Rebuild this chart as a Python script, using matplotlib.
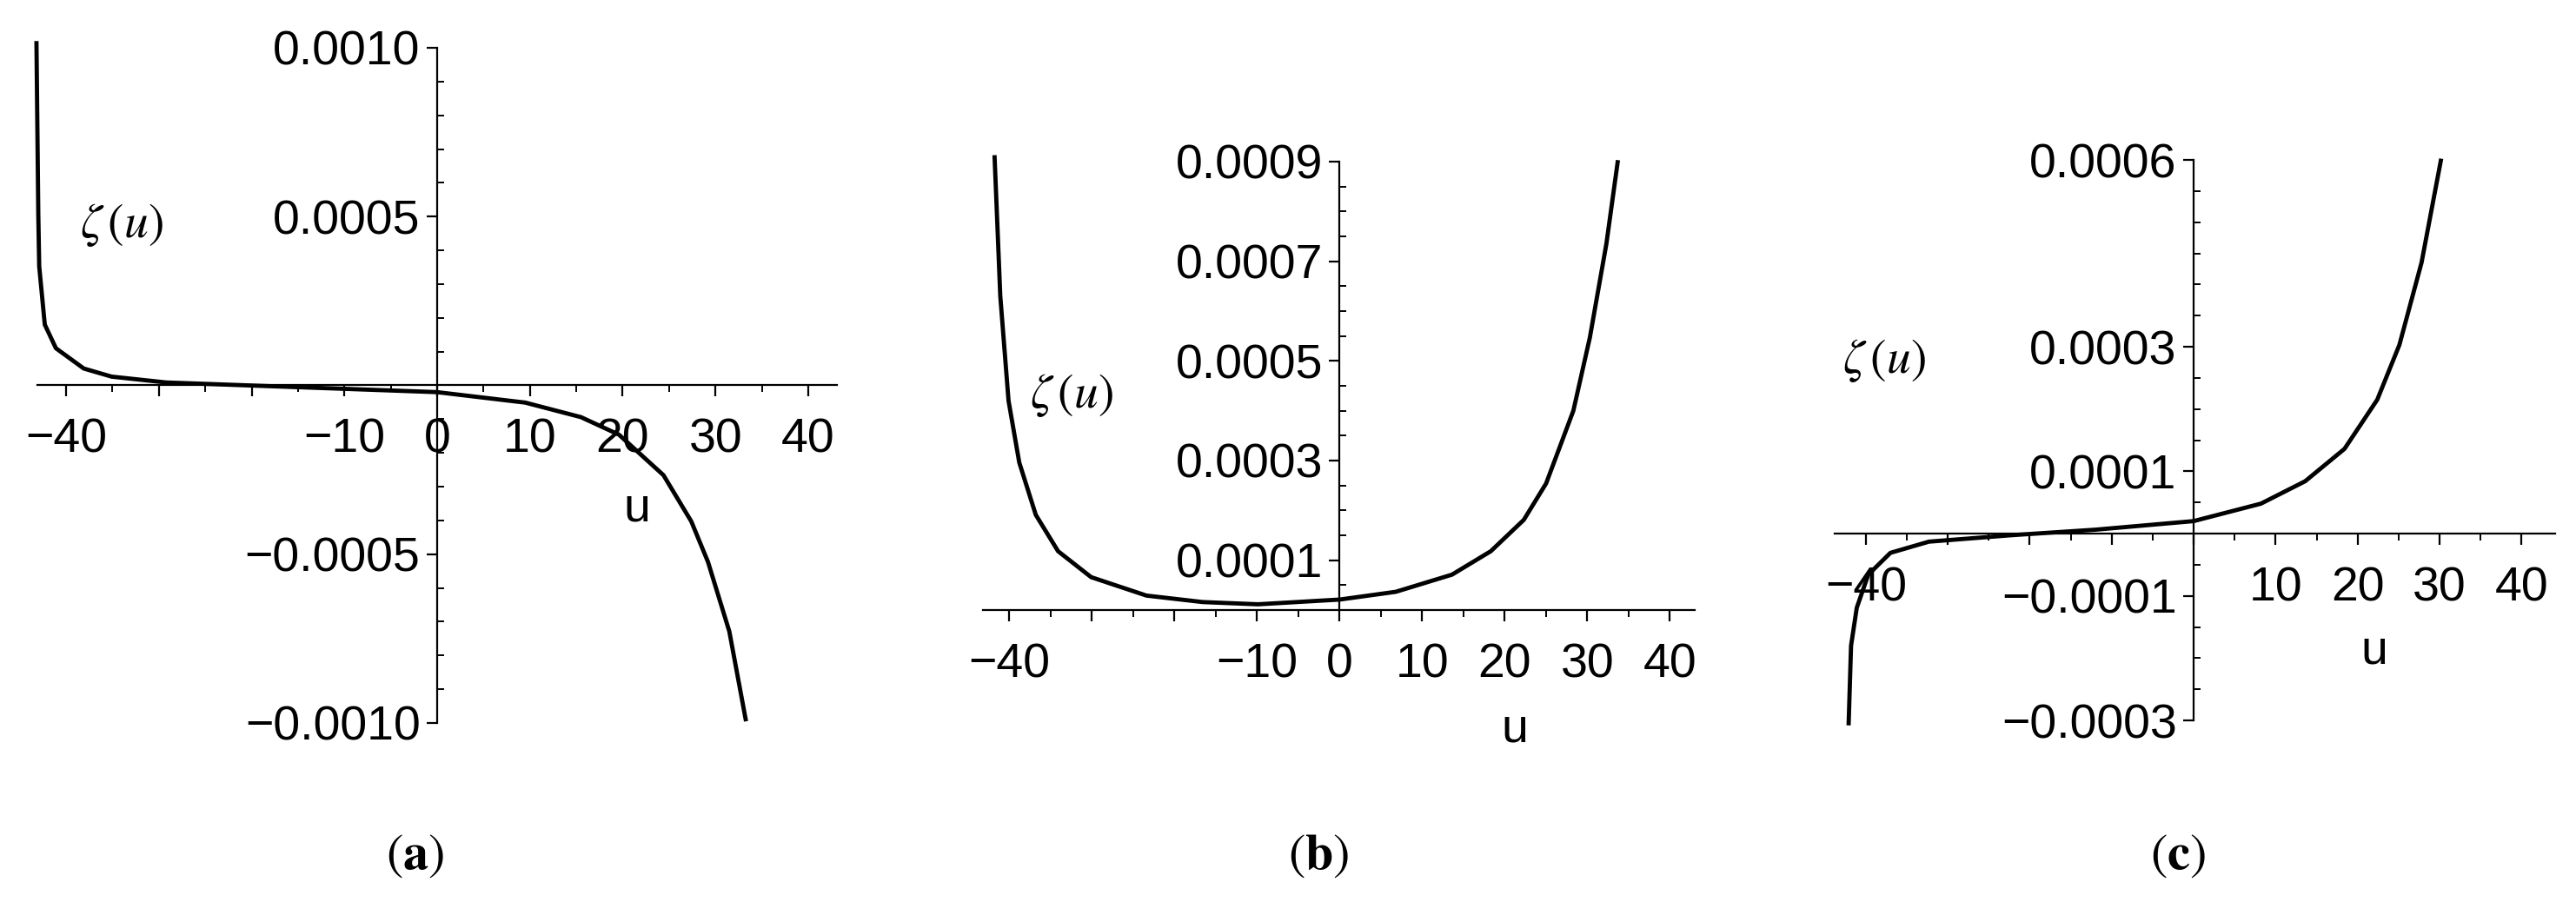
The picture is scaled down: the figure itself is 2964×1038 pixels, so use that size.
"""Recreate the three zeta(u) panels (Maple-style axes through the origin)."""
import matplotlib

matplotlib.use("Agg")
import matplotlib.pyplot as plt
from matplotlib.ticker import FixedLocator, FixedFormatter

plt.rcParams["font.family"] = ["Liberation Sans", "DejaVu Sans"]
plt.rcParams["mathtext.fontset"] = "stix"

W, H = 2964, 1038

# panel (a)
u_a = [-43.2, -43.0, -42.9, -42.3, -41.1, -38.1, -35.1, -29.2, -17.3, 0.0, 9.5, 15.5, 19.6, 24.4, 27.4, 29.2, 31.5, 33.3]
z_a = [0.00102, 0.000506, 0.000352, 0.00018, 0.00011, 0.00005, 0.000026, 0.0000086, -0.000003, -0.00002,
       -0.000051, -0.000094, -0.000146, -0.000266, -0.000403, -0.000523, -0.000729, -0.000995]
# panel (b)
u_b = [-41.8, -41.1, -40.1, -38.8, -36.8, -34.1, -30.1, -23.4, -16.6, -9.9, 0.0, 6.8, 13.6, 18.3, 22.3, 25.0, 28.3, 30.3, 32.3, 33.7]
z_b = [0.000913, 0.00063, 0.00042, 0.000296, 0.000191, 0.000118, 0.000066, 0.000029, 0.000016, 0.0000115, 0.000021,
       0.0000366, 0.000071, 0.000118, 0.000181, 0.000254, 0.0004, 0.000547, 0.000735, 0.000903]
# panel (c)
u_c = [-42.1, -41.8, -41.1, -39.7, -37.0, -32.3, -22.2, -12.0, 0.0, 8.2, 13.6, 18.4, 22.4, 25.1, 27.8, 30.2]
z_c = [-0.000308, -0.00018, -0.000119, -0.000066, -0.000031, -0.000013, -0.0000026, 0.0000062, 0.00002,
       0.000048, 0.000084, 0.000136, 0.000215, 0.000303, 0.000435, 0.000602]

x_ticks = [-40, -30, -20, -10, 0, 10, 20, 30, 40]
x_minor = [-35, -25, -15, -5, 5, 15, 25, 35]

panels = [
    {
        "u": u_a, "z": z_a, "box": (43, 963, 55, 832), "xlim": (-43.1, 43.1), "ylim": (-0.001, 0.001),
        "xlabels": ["−40", "", "", "−10", "0", "10", "20", "30", "40"],
        "yticks": [-0.001, -0.0005, 0.0005, 0.001], "ylabels": ["−0.0010", "−0.0005", "0.0005", "0.0010"],
        "yminor": [i * 0.0001 for i in range(-10, 11)],
        "zeta": (140, 259), "ulab": (733, 585), "tag": (478, 985), "letter": "a",
    },
    {
        "u": u_b, "z": z_b, "box": (1131, 1950, 186, 702), "xlim": (-43.2, 43.0), "ylim": (0, 0.0009),
        "xlabels": ["−40", "", "", "−10", "0", "10", "20", "30", "40"],
        "yticks": [0.0001, 0.0003, 0.0005, 0.0007, 0.0009],
        "ylabels": ["0.0001", "0.0003", "0.0005", "0.0007", "0.0009"],
        "yminor": [i * 0.00005 for i in range(0, 19)],
        "zeta": (1233, 455), "ulab": (1743, 840), "tag": (1517, 985), "letter": "b",
    },
    {
        "u": u_c, "z": z_c, "box": (2111, 2940, 184, 829), "xlim": (-43.8, 44.1), "ylim": (-0.0003, 0.0006),
        "xlabels": ["−40", "", "", "", "", "10", "20", "30", "40"],
        "yticks": [-0.0003, -0.0001, 0.0001, 0.0003, 0.0006],
        "ylabels": ["−0.0003", "−0.0001", "0.0001", "0.0003", "0.0006"],
        "yminor": [i * 0.00005 for i in range(-6, 13)],
        "zeta": (2168, 415), "ulab": (2732, 749), "tag": (2506, 985), "letter": "c",
    },
]

fig = plt.figure(figsize=(W / 100, H / 100), dpi=100)

for p in panels:
    x0, x1, ytop, ybot = p["box"]
    ax = fig.add_axes([x0 / W, 1 - ybot / H, (x1 - x0) / W, (ybot - ytop) / H])
    ax.patch.set_alpha(0)
    ax.plot(p["u"], p["z"], color="black", lw=3.5, clip_on=False, solid_capstyle="butt")
    ax.set_xlim(*p["xlim"])
    ax.set_ylim(*p["ylim"])
    ax.spines[["top", "right"]].set_visible(False)
    ax.spines["left"].set_position(("data", 0))
    ax.spines["bottom"].set_position(("data", 0))
    for s in ("left", "bottom"):
        ax.spines[s].set_linewidth(1.6)

    ax.xaxis.set_major_locator(FixedLocator(x_ticks))
    ax.xaxis.set_major_formatter(FixedFormatter(p["xlabels"]))
    ax.xaxis.set_minor_locator(FixedLocator(x_minor))
    ax.yaxis.set_major_locator(FixedLocator(p["yticks"]))
    ax.yaxis.set_major_formatter(FixedFormatter(p["ylabels"]))
    ax.yaxis.set_minor_locator(FixedLocator(p["yminor"]))

    ax.tick_params(axis="x", which="major", direction="out", length=9, width=1.6, pad=18, labelsize=40)
    ax.tick_params(axis="x", which="minor", direction="out", length=6, width=1.4)
    ax.tick_params(axis="y", which="major", direction="out", length=9, width=1.6, pad=5, labelsize=40)
    ax.tick_params(axis="y", which="minor", direction="in", length=6, width=1.4)

    fig.text(p["zeta"][0] / W, 1 - p["zeta"][1] / H, r"$\zeta\,(u)$", fontsize=40, ha="center", va="center")
    fig.text(p["ulab"][0] / W, 1 - p["ulab"][1] / H, "u", fontsize=40, ha="center", va="center")
    fig.text(p["tag"][0] / W, 1 - p["tag"][1] / H, r"$(\mathbf{%s})$" % p["letter"], fontsize=42,
             ha="center", va="center")

fig.savefig("out.png", dpi=100, facecolor="white")
